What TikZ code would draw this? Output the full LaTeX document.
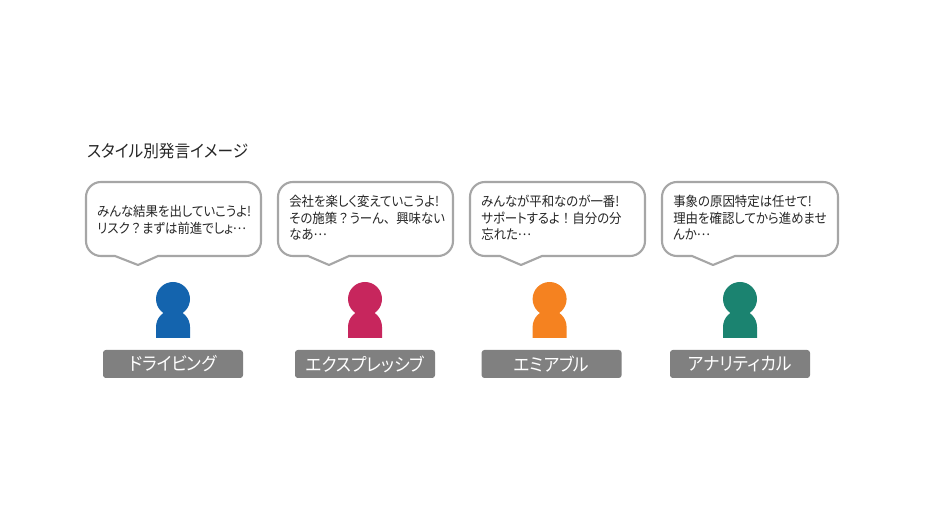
\documentclass[tikz,border=0pt]{standalone}
\usepackage{fontspec}
\setmainfont[RawFeature=+palt, FakeStretch=0.92]{Noto Sans CJK JP}
\newfontfamily\widefont[FakeStretch=0.92]{Noto Sans CJK JP}
\newcommand{\wq}{{\widefont ？}}
\newcommand{\we}{{\widefont ！}}
\newcommand{\wc}{{\widefont 、}}
\newcommand{\tn}{\raisebox{0.3em}{…}}
\definecolor{drivingblue}{HTML}{1464AE}
\definecolor{expressred}{HTML}{C7265D}
\definecolor{amiableorange}{HTML}{F58220}
\definecolor{analyticalgreen}{HTML}{1B8370}
\tikzset{
  bubble/.style={draw=black!35, line width=1.5pt, fill=white, line join=round},
  speech/.style={anchor=west, align=left, inner sep=0pt, font=\fontsize{9.6}{11.7}\selectfont, text=black!85},
  head/.style={circle, minimum size=0.85cm, inner sep=0pt},
  stylebox/.style={fill=black!50, rounded corners=2pt, minimum width=3.5cm, minimum height=0.7cm, inner sep=0pt, text=white, font=\fontsize{12.9}{14}\selectfont}
}
\begin{document}
\begin{tikzpicture}
       \useasboundingbox (0,0) rectangle (23.5,13.225);

       \node(TITLE)[anchor=west, inner sep=0pt, text=black!85, font=\fontsize{12.1}{14}\selectfont] at (2.17,9.45) {スタイル別発言イメージ};

       \draw[bubble, rounded corners=0.375cm] (2.875,6.825) -- (2.15,6.825) -- (2.15,8.675) -- (6.525,8.675) -- (6.525,6.825) -- (4.6,6.825) [sharp corners] -- (3.95,6.825) -- (3.45,6.6) -- cycle;
       \node(S1)[speech] at (2.425,7.725) {みんな結果を出していこうよ!\\リスク\wq まずは前進でしょ\tn};

       \draw[bubble, rounded corners=0.375cm] (7.7,6.825) -- (6.95,6.825) -- (6.95,8.675) -- (11.325,8.675) -- (11.325,6.825) -- (9.4,6.825) [sharp corners] -- (8.725,6.825) -- (8.225,6.6) -- cycle;
       \node(S2)[speech] at (7.225,7.78) {会社を楽しく変えていこうよ!\\その施策\wq うーん\wc 興味ない\\なあ\tn};

       \draw[bubble, rounded corners=0.375cm] (12.5,6.825) -- (11.75,6.825) -- (11.75,8.675) -- (16.125,8.675) -- (16.125,6.825) -- (14.2,6.825) [sharp corners] -- (13.55,6.825) -- (13.025,6.6) -- cycle;
       \node(S3)[speech] at (12.025,7.78) {みんなが平和なのが一番!\\サポートするよ\we 自分の分\\忘れた\tn};

       \draw[bubble, rounded corners=0.375cm] (17.3,6.825) -- (16.55,6.825) -- (16.55,8.675) -- (20.95,8.675) -- (20.95,6.825) -- (19,6.825) [sharp corners] -- (18.375,6.825) -- (17.825,6.6) -- cycle;
       \node(S4)[speech] at (16.825,7.78) {事象の原因特定は任せて!\\理由を確認してから進めませ\\んか\tn};

       \node(H1)[head, fill=drivingblue] at (4.325,5.75) {};
       \fill[drivingblue] (3.9,4.775) -- (3.9,5.05) arc[start angle=180, end angle=0, radius=0.425] -- (4.75,4.775) -- cycle;
       \node(L1)[stylebox] at (4.325,4.125) {ドライビング};

       \node(H2)[head, fill=expressred] at (9.125,5.75) {};
       \fill[expressred] (8.7,4.775) -- (8.7,5.05) arc[start angle=180, end angle=0, radius=0.425] -- (9.55,4.775) -- cycle;
       \node(L2)[stylebox] at (9.125,4.125) {エクスプレッシブ};

       \node(H3)[head, fill=amiableorange] at (13.74,5.75) {};
       \fill[amiableorange] (13.315,4.775) -- (13.315,5.05) arc[start angle=180, end angle=0, radius=0.425] -- (14.165,4.775) -- cycle;
       \node(L3)[stylebox] at (13.79,4.125) {エミアブル};

       \node(H4)[head, fill=analyticalgreen] at (18.5,5.75) {};
       \fill[analyticalgreen] (18.075,4.775) -- (18.075,5.05) arc[start angle=180, end angle=0, radius=0.425] -- (18.925,4.775) -- cycle;
       \node(L4)[stylebox] at (18.5,4.125) {アナリティカル};
\end{tikzpicture}
\end{document}
